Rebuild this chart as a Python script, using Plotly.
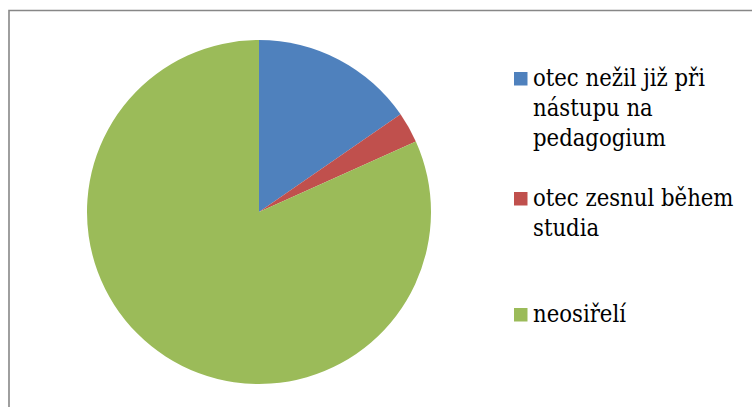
import plotly.graph_objects as go

# ---- data ----
labels = ["otec nežil již při nástupu na pedagogium", "otec zesnul během studia", "neosiřelí"]
legend_lines = [["otec nežil již při", "nástupu na", "pedagogium"],
                ["otec zesnul během", "studia"],
                ["neosiřelí"]]
values = [16, 3, 85]
colors = ["#4F81BD", "#C0504D", "#9BBB59"]

# ---- layout helpers (pixel -> paper) ----
W, H = 752, 407
def px(x):
    return x / W
def py(y):
    return 1 - y / H

FONT = "DejaVu Serif Condensed, DejaVu Serif, serif"
FS = 23.6

fig = go.Figure(go.Pie(
    labels=labels, values=values, sort=False, direction="clockwise", rotation=0,
    marker=dict(colors=colors, line=dict(width=0)),
    textinfo="none", hoverinfo="label+percent",
    domain=dict(x=[px(87), px(431)], y=[py(384), py(40)]),
    showlegend=False,
))

# manual legend (wrapped text like the original)
first_baselines = [86, 206, 322]
line_gap = 30
shapes = []
annotations = []
for i, lines in enumerate(legend_lines):
    b0 = first_baselines[i]
    shapes.append(dict(type="rect", xref="paper", yref="paper",
                       x0=px(514), x1=px(527.5), y0=py(b0 - 0.5), y1=py(b0 - 14),
                       fillcolor=colors[i], line=dict(width=0)))
    for j, t in enumerate(lines):
        b = b0 + j * line_gap
        annotations.append(dict(text=t, xref="paper", yref="paper",
                                x=px(531), y=py(b - 8), xanchor="left", yanchor="middle",
                                showarrow=False, font=dict(family=FONT, size=FS, color="#000000")))

# chart area border (top and left visible)
shapes.append(dict(type="rect", xref="paper", yref="paper",
                   x0=px(9), x1=px(W + 10), y0=py(10.5), y1=py(H + 10),
                   line=dict(color="#878787", width=1.6), fillcolor="rgba(0,0,0,0)"))

fig.update_layout(
    width=W, height=H, margin=dict(l=0, r=0, t=0, b=0),
    paper_bgcolor="white", plot_bgcolor="white",
    shapes=shapes, annotations=annotations,
    font=dict(family=FONT),
)

fig.write_html("out.html", config={"displayModeBar": False},
               post_script="document.body.style.margin='0';")
